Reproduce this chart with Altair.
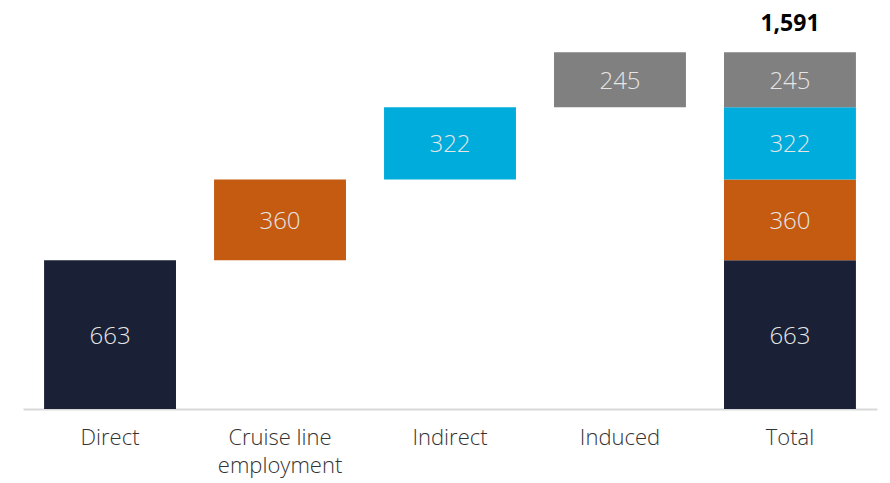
import altair as alt
import pandas as pd

categories = ["Direct", "Cruise line employment", "Indirect", "Induced"]
values = [663, 360, 322, 245]
colors = ["#1a2035", "#c55a11", "#00acdc", "#808080"]
total_label = "Total"
total_value = 1591

rows = []
cum = 0
for cat, v, c in zip(categories, values, colors):
    rows.append({"cat": cat, "y0": cum, "y1": cum + v, "val": v, "color": c})
    cum += v
cum = 0
for cat, v, c in zip(categories, values, colors):
    rows.append({"cat": total_label, "y0": cum, "y1": cum + v, "val": v, "color": c})
    cum += v
df = pd.DataFrame(rows)
df["mid"] = (df["y0"] + df["y1"]) / 2
order = categories + [total_label]

tot_df = pd.DataFrame({"cat": [total_label], "y": [total_value], "lab": [f"{total_value:,}"]})

FONT = "Open Sans"

x = alt.X("cat:N", sort=order, title=None,
          scale=alt.Scale(paddingInner=0.224, paddingOuter=0.124),
          axis=alt.Axis(labelAngle=0, labelFontSize=22, labelFont=FONT, labelFontWeight=300,
                        labelColor="#333333", ticks=False, domainColor="#d9d9d9", domainWidth=2,
                        labelPadding=18, labelLineHeight=28, labelBaseline="top",
                        labelExpr="datum.label == 'Cruise line employment' ? ['Cruise line', 'employment'] : datum.label"))
yscale = alt.Scale(domain=[0, total_value], nice=False, zero=True)

bars = alt.Chart(df).mark_bar().encode(
    x=x,
    y=alt.Y("y0:Q", scale=yscale, axis=None),
    y2="y1:Q",
    color=alt.Color("color:N", scale=None),
)

labels = alt.Chart(df).mark_text(font=FONT, fontSize=24, fontWeight=300, color="#e6e6e6",
                                 baseline="middle", dy=2).encode(
    x=alt.X("cat:N", sort=order),
    y=alt.Y("mid:Q", scale=yscale),
    text="val:Q",
)

top = alt.Chart(tot_df).mark_text(font=FONT, fontSize=23, fontWeight="bold", color="#000000",
                                  baseline="alphabetic", dy=-21).encode(
    x=alt.X("cat:N", sort=order),
    y=alt.Y("y:Q", scale=yscale),
    text="lab:N",
)

chart = alt.layer(bars, labels, top).properties(
    width=854, height=357,
    autosize=alt.AutoSizeParams(type="none"),
    padding={"left": 15, "top": 44, "right": 5, "bottom": 70},
).configure_view(stroke=None)

chart.save("out.html", embed_options={"renderer": "svg", "actions": False})
